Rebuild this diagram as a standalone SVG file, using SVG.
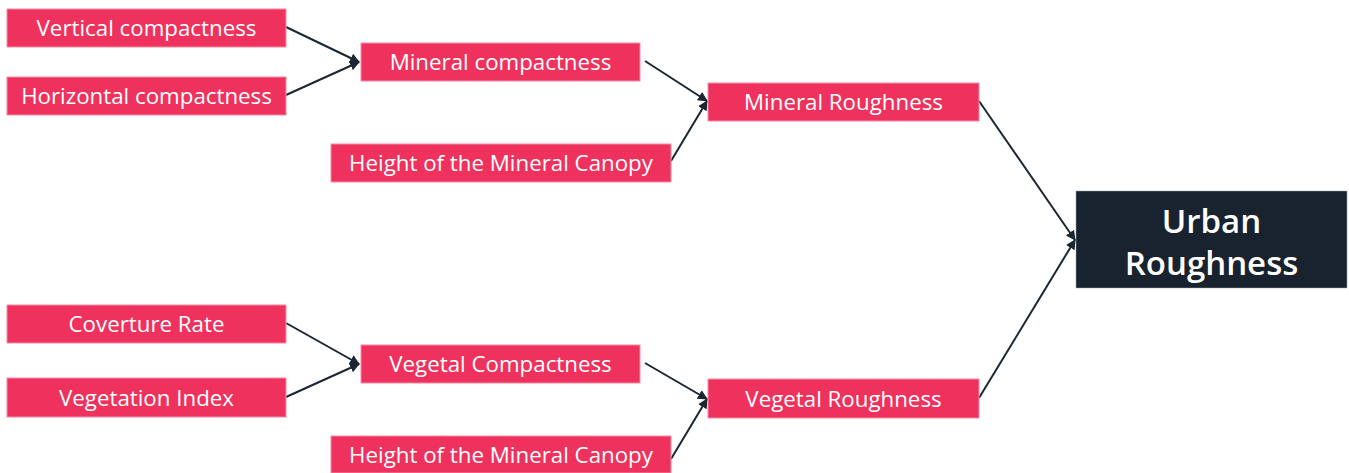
<svg xmlns="http://www.w3.org/2000/svg" width="1349" height="473" viewBox="0 0 1349 473">
<style>
.n rect{fill:#EE325D;stroke:#F58BA4;stroke-width:1}
.n text{fill:#fff;font-family:"Open Sans","Noto Sans",sans-serif;font-size:22.3px;text-anchor:middle;dominant-baseline:central}
.u rect{fill:#18232F;stroke:#9aa3ad;stroke-width:0.5}
.u text{fill:#fff;font-family:"Open Sans","Noto Sans",sans-serif;font-size:33px;font-weight:600;text-anchor:middle}
.c line{stroke:#1B2631;stroke-width:2;marker-end:url(#a)}
</style>
<defs>
<marker id="a" viewBox="0 0 10 10" refX="9" refY="5" markerWidth="5" markerHeight="5" orient="auto" markerUnits="strokeWidth">
<path d="M0,0 L10,5 L0,10 z" fill="#1B2631"/>
</marker>
</defs>
<g class="c">
<line x1="286" y1="27" x2="359" y2="62"/>
<line x1="286" y1="95" x2="359" y2="62"/>
<line x1="645" y1="61" x2="707" y2="101"/>
<line x1="671" y1="161" x2="707" y2="101"/>
<line x1="979" y1="101" x2="1075" y2="240"/>
<line x1="286" y1="323" x2="359" y2="364"/>
<line x1="286" y1="397" x2="359" y2="364"/>
<line x1="645" y1="363" x2="707" y2="399"/>
<line x1="671" y1="459" x2="707" y2="399"/>
<line x1="979" y1="398" x2="1075" y2="240"/>
</g>
<g id="vertical" class="n"><rect x="7" y="9" width="279" height="38"/><text x="146.5" y="27.5">Vertical compactness</text></g>
<g id="horizontal" class="n"><rect x="7" y="77" width="279" height="38"/><text x="146.5" y="95.5">Horizontal compactness</text></g>
<g id="mineralcomp" class="n"><rect x="361" y="43" width="279" height="38"/><text x="500.5" y="61.5">Mineral compactness</text></g>
<g id="height1" class="n"><rect x="331" y="144" width="340" height="38"/><text x="501" y="162.5">Height of the Mineral Canopy</text></g>
<g id="mineralrough" class="n"><rect x="708" y="83" width="271" height="38"/><text x="843.5" y="101.5">Mineral Roughness</text></g>
<g id="coverture" class="n"><rect x="7" y="305" width="279" height="38"/><text x="146.5" y="323.5">Coverture Rate</text></g>
<g id="vegindex" class="n"><rect x="7" y="378" width="279" height="39"/><text x="146.5" y="397">Vegetation Index</text></g>
<g id="vegcomp" class="n"><rect x="361" y="345" width="279" height="38"/><text x="500.5" y="363.5">Vegetal Compactness</text></g>
<g id="height2" class="n"><rect x="331" y="436" width="340" height="37"/><text x="501" y="454.5">Height of the Mineral Canopy</text></g>
<g id="vegrough" class="n"><rect x="708" y="379" width="271" height="39"/><text x="843.5" y="398">Vegetal Roughness</text></g>
<g id="urban" class="u"><rect x="1076" y="191" width="271" height="97"/><text x="1211.5" y="233">Urban</text><text x="1211.5" y="275">Roughness</text></g>
</svg>
